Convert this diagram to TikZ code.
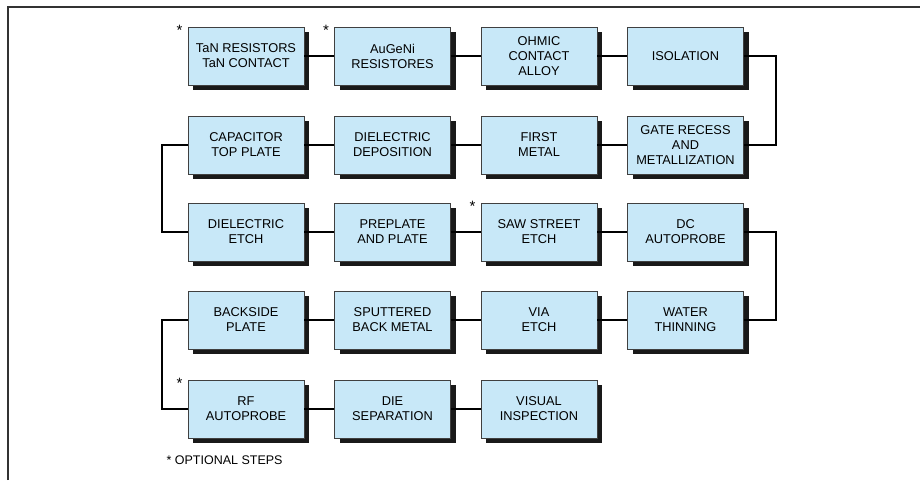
\documentclass[tikz,border=0pt]{standalone}
\usepackage{fontspec}
\setmainfont{Liberation Sans}
\usepackage{tikz}
\usetikzlibrary{shadows}
\definecolor{stepblue}{HTML}{C8E8F8}
\tikzset{
  stepbox/.style  = {draw=black!75, line width=0.8pt, fill=stepblue,
                     minimum width=116pt, minimum height=58pt, align=center,
                     inner sep=2pt, font=\fontsize{12.8}{15}\selectfont,
                     drop shadow={shadow xshift=5pt, shadow yshift=-5pt,
                                  fill=black!90, opacity=1}},
  link/.style     = {black, line width=1.8pt},
  optmark/.style  = {font=\fontsize{15}{15}\selectfont, inner sep=0pt},
  frameline/.style= {black!80, line width=1.6pt}
}
\begin{document}
\begin{tikzpicture}[x=1pt, y=-1pt]
  \useasboundingbox (0,0) rectangle (920,480);
  \draw[frameline] (8,480) -- (8,7) -- (920,7);
  \coordinate (xr) at (776,0);
  \coordinate (xl) at (162,0);
  % row 1
  \node[stepbox] (tan)       at (246,56)    {TaN RESISTORS\\TaN CONTACT};
  \node[stepbox] (augeni)    at (392.5,56)  {AuGeNi\\RESISTORES};
  \node[stepbox] (ohmic)     at (539,56)    {OHMIC\\CONTACT\\ALLOY};
  \node[stepbox] (isol)      at (685.5,56)  {ISOLATION};
  % row 2
  \node[stepbox] (captop)    at (246,145)   {CAPACITOR\\TOP PLATE};
  \node[stepbox] (dieldep)   at (392.5,145) {DIELECTRIC\\DEPOSITION};
  \node[stepbox] (metal1)    at (539,145)   {FIRST\\METAL};
  \node[stepbox] (gate)      at (685.5,145) {GATE RECESS\\AND\\METALLIZATION};
  % row 3
  \node[stepbox] (dieletch)  at (246,232)   {DIELECTRIC\\ETCH};
  \node[stepbox] (preplate)  at (392.5,232) {PREPLATE\\AND PLATE};
  \node[stepbox] (saw)       at (539,232)   {SAW STREET\\ETCH};
  \node[stepbox] (dcprobe)   at (685.5,232) {DC\\AUTOPROBE};
  % row 4
  \node[stepbox] (backplate) at (246,320)   {BACKSIDE\\PLATE};
  \node[stepbox] (backmetal) at (392.5,320) {SPUTTERED\\BACK METAL};
  \node[stepbox] (via)       at (539,320)   {VIA\\ETCH};
  \node[stepbox] (thin)      at (685.5,320) {WATER\\THINNING};
  % row 5
  \node[stepbox] (rfprobe)   at (246,409)   {RF\\AUTOPROBE};
  \node[stepbox] (diesep)    at (392.5,409) {DIE\\SEPARATION};
  \node[stepbox] (visual)    at (539,409)   {VISUAL\\INSPECTION};
  % optional marks
  \node[optmark] (m1) at ([xshift=-8pt,yshift=-4pt]tan.north west)     {*};
  \node[optmark] (m2) at ([xshift=-8pt,yshift=-4pt]augeni.north west)  {*};
  \node[optmark] (m3) at ([xshift=-8pt,yshift=-4pt]saw.north west)     {*};
  \node[optmark] (m4) at ([xshift=-8pt,yshift=-4pt]rfprobe.north west) {*};
  \node[anchor=west, font=\fontsize{12.5}{13}\selectfont] (note) at (163,460) {* OPTIONAL STEPS};
  % connectors
  \draw[link] (tan) -- (augeni);
  \draw[link] (augeni) -- (ohmic);
  \draw[link] (ohmic) -- (isol);
  \draw[link] (isol.east) -- (isol.east -| xr) |- (gate.east);
  \draw[link] (gate) -- (metal1);
  \draw[link] (metal1) -- (dieldep);
  \draw[link] (dieldep) -- (captop);
  \draw[link] (captop.west) -- (captop.west -| xl) |- (dieletch.west);
  \draw[link] (dieletch) -- (preplate);
  \draw[link] (preplate) -- (saw);
  \draw[link] (saw) -- (dcprobe);
  \draw[link] (dcprobe.east) -- (dcprobe.east -| xr) |- (thin.east);
  \draw[link] (thin) -- (via);
  \draw[link] (via) -- (backmetal);
  \draw[link] (backmetal) -- (backplate);
  \draw[link] (backplate.west) -- (backplate.west -| xl) |- (rfprobe.west);
  \draw[link] (rfprobe) -- (diesep);
  \draw[link] (diesep) -- (visual);
\end{tikzpicture}
\end{document}
